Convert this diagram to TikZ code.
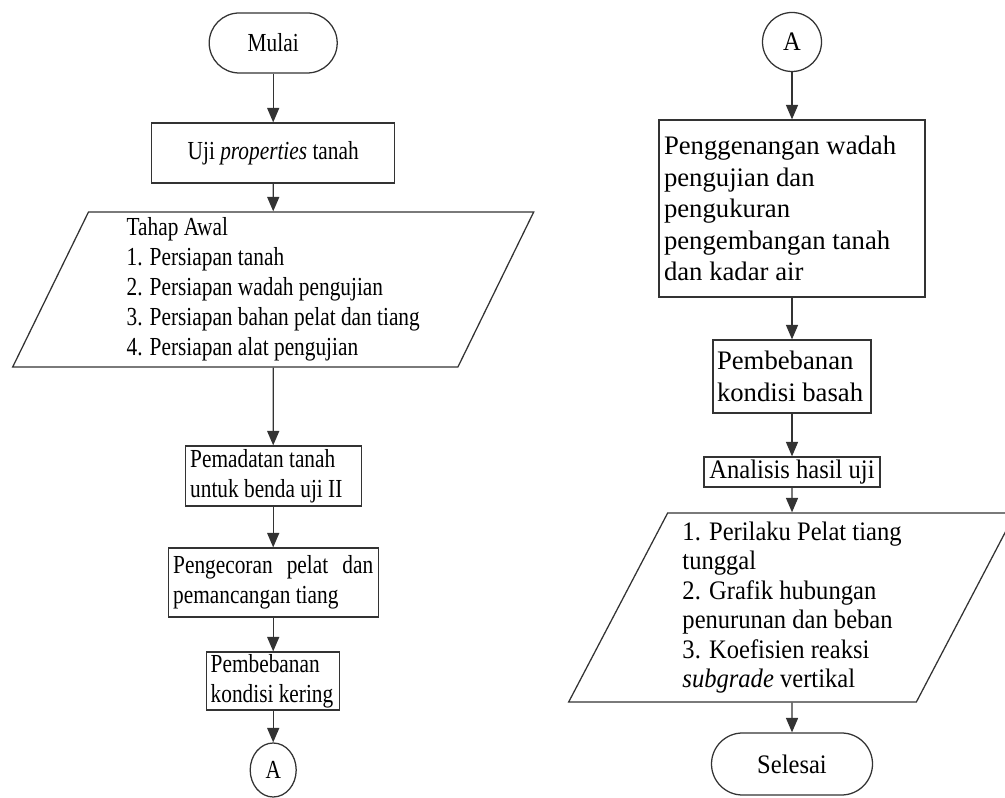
\documentclass[tikz,border=0pt]{standalone}
\usepackage{fontspec}
\setmainfont{Liberation Serif}
\newfontfamily\lcolfont[FakeStretch=0.82]{Liberation Serif}
\newfontfamily\rboxfont{Liberation Serif}
\newfontfamily\rcolfont[FakeStretch=0.92]{Liberation Serif}
\usetikzlibrary{arrows.meta,shapes.geometric}

\begin{document}
\begin{tikzpicture}[
    lft/.style={font=\lcolfont\fontsize{18.5}{21.3}\selectfont},
    rgt/.style={font=\rcolfont\fontsize{19}{21}\selectfont},
    rbx/.style={font=\rboxfont\fontsize{19}{22.4}\selectfont},
    shp/.style={draw=black!80,line width=0.9pt,inner sep=0pt},
    term/.style={shp,rounded corners=0.75cm},
    proc/.style={shp,inner xsep=0.125cm,align=left,
      execute at begin node={\spaceskip=0pt\xspaceskip=0pt\hyphenpenalty=10000}},
    io/.style={shp,trapezium,trapezium stretches=true,align=left},
    arr/.style={-{Triangle[length=3.6mm,width=3mm]},line width=0.9pt,draw=black!80},
  ]
  \useasboundingbox (0,0) rectangle (25.125,19.925);

  % left column
  \node[term,lft,minimum width=3.2cm,minimum height=1.5cm] (mulai) at (6.83,18.85) {Mulai};
  \node[shp,lft,minimum width=6.075cm,minimum height=1.5cm] (uji) at (6.83,16.1) {Uji \textit{properties} tanah};
  \node[io,lft,trapezium left angle=67.25,trapezium right angle=112.75,
        minimum width=13.075cm,minimum height=3.875cm] (awal) at (6.83,12.6875)
    {Tahap Awal\\1. Persiapan tanah\\2. Persiapan wadah pengujian\\3. Persiapan bahan pelat dan tiang\\4. Persiapan alat pengujian};
  \node[proc,lft,text width=4.15cm,minimum height=1.5cm] (padat) at (6.83,8.025)
    {Pemadatan tanah\\untuk benda uji II};
  \node[proc,lft,text width=5.0cm,minimum height=1.725cm] (cor) at (6.83,5.3625)
    {Pengecoran\hfill pelat\hfill dan\\pemancangan tiang};
  \node[proc,lft,inner xsep=0.1cm,text width=3.125cm,minimum height=1.45cm] (kering) at (6.83,2.9)
    {Pembebanan\\kondisi kering};
  \node[shp,lft,ellipse,minimum width=1.15cm,minimum height=1.35cm] (keA) at (6.83,0.675) {A};

  \draw[arr] (mulai) -- (uji);
  \draw[arr] (uji) -- (awal.north);
  \draw[arr] (awal.south) -- (padat);
  \draw[arr] (padat) -- (cor);
  \draw[arr] (cor) -- (kering);
  \draw[arr] (kering) -- (keA);

  % right column
  \node[shp,rgt,circle,minimum size=1.475cm] (dariA) at (19.8,18.875) {A};
  \node[proc,rbx,text width=6.4cm,minimum height=4.425cm] (genang) at (19.8,14.7125)
    {Penggenangan wadah\\pengujian dan\\pengukuran\\pengembangan tanah\\dan kadar air};
  \node[proc,rbx,inner xsep=0.1cm,text width=3.75cm,minimum height=1.825cm] (basah) at (19.8,10.5125)
    {Pembebanan\\kondisi basah};
  \node[shp,rgt,minimum width=4.4cm,minimum height=0.75cm] (analisis) at (19.8,8.125)
    {Analisis hasil uji};
  \node[io,rgt,trapezium left angle=63.1,trapezium right angle=116.9,
        minimum width=11.175cm,minimum height=4.725cm] (hasil) at (19.8,4.7375)
    {1. Perilaku Pelat tiang\\tunggal\\2. Grafik hubungan\\penurunan dan beban\\3. Koefisien reaksi\\\textit{subgrade} vertikal};
  \node[term,rgt,rounded corners=0.775cm,minimum width=4.025cm,minimum height=1.55cm] (selesai) at (19.8,0.825) {Selesai};

  \draw[arr] (dariA) -- (genang);
  \draw[arr] (genang) -- (basah);
  \draw[arr] (basah) -- (analisis);
  \draw[arr] (analisis) -- (hasil.north);
  \draw[arr] (hasil.south) -- (selesai);
\end{tikzpicture}
\end{document}
